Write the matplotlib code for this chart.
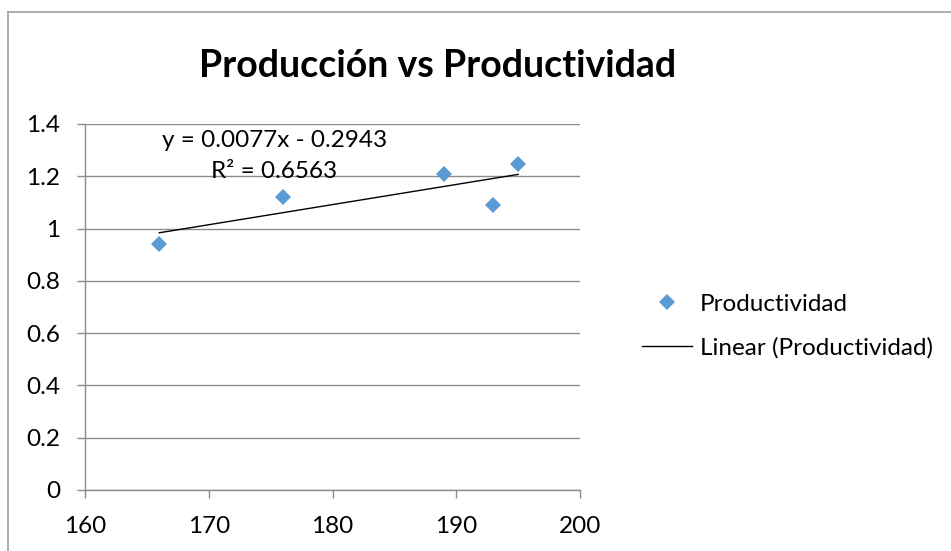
import matplotlib
matplotlib.use("Agg")
import matplotlib.pyplot as plt
from matplotlib.lines import Line2D
import numpy as np

# Data
produccion = [166, 176, 189, 193, 195]
productividad = [0.94, 1.12, 1.208, 1.089, 1.246]
slope = 0.0077
intercept = -0.2943
r_squared = 0.6563
x_ticks = [160, 170, 180, 190, 200]
y_ticks = [0, 0.2, 0.4, 0.6, 0.8, 1.0, 1.2, 1.4]
y_tick_labels = ["0", "0.2", "0.4", "0.6", "0.8", "1", "1.2", "1.4"]

FONT = "Lato"
GRID = "#8c8c8c"
BLUE = "#5b9bd5"
FS = 17.5

fig = plt.figure(figsize=(9.51, 5.51), dpi=100)
fig.patch.set_facecolor("white")

# chart frame (top and left edges)
fig.add_artist(Line2D([8 / 951, 1.0], [1 - 12 / 551, 1 - 12 / 551],
                      transform=fig.transFigure, color="#a6a6a6", lw=1.3))
fig.add_artist(Line2D([8 / 951, 8 / 951], [0, 1 - 12 / 551],
                      transform=fig.transFigure, color="#a6a6a6", lw=1.3))

ax = fig.add_axes([85 / 951, 1 - 490 / 551, (580 - 85) / 951, (490 - 124) / 551])
ax.set_xlim(160, 200)
ax.set_ylim(0, 1.4)

ax.set_xticks(x_ticks)
ax.set_yticks(y_ticks)
ax.set_yticklabels(y_tick_labels)
ax.tick_params(axis="both", colors=GRID, length=6, width=1.0,
               labelsize=FS, labelcolor="black")
ax.tick_params(axis="y", pad=12)
ax.tick_params(axis="x", pad=13)
for lab in ax.get_xticklabels() + ax.get_yticklabels():
    lab.set_fontfamily(FONT)

for side in ("top", "right"):
    ax.spines[side].set_visible(False)
for side in ("left", "bottom"):
    ax.spines[side].set_color(GRID)
    ax.spines[side].set_linewidth(1.0)

ax.grid(axis="y", color=GRID, lw=1.0)
ax.set_axisbelow(True)

# data points
ax.plot(produccion, productividad, linestyle="none", marker="D", ms=8.6,
        mfc=BLUE, mec=BLUE, mew=0, label="Productividad", zorder=3)

# linear trendline from the stated equation
xt = np.array([min(produccion), max(produccion)])
ax.plot(xt, slope * xt + intercept, color="black", lw=1.0,
        label="Linear (Productividad)", zorder=2)

eq_x = 175.3
ax.text(eq_x, 1.313, f"y = {slope:.4f}x - {abs(intercept):.4f}", ha="center",
        va="baseline", fontsize=FS, family=FONT, zorder=4)
ax.text(eq_x, 1.1936, f"R² = {r_squared:.4f}", ha="center",
        va="baseline", fontsize=FS, family=FONT, zorder=4)

fig.text(438 / 951, 1 - 77 / 551, "Producción vs Productividad", ha="center",
         va="baseline", fontsize=27, fontweight="bold", family=FONT)

leg = fig.legend(loc="center left", bbox_to_anchor=(642 / 951, 1 - 326 / 551),
                 frameon=False, prop={"family": FONT, "size": FS},
                 borderpad=0, borderaxespad=0,
                 handlelength=2.06, handletextpad=0.33, labelspacing=0.9)

fig.savefig("out.png", dpi=100, facecolor="white")
